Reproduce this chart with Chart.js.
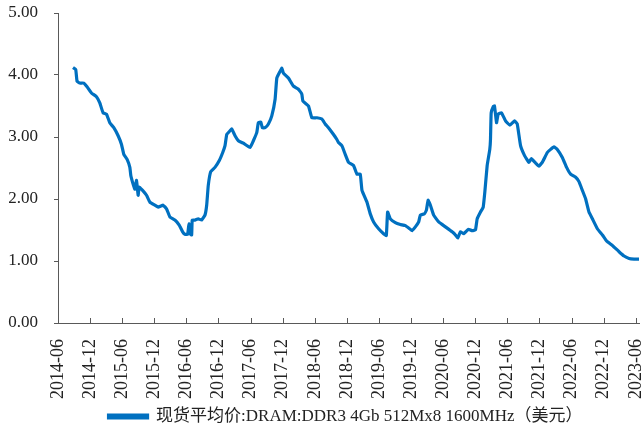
<!DOCTYPE html>
<html>
<head>
<meta charset="utf-8">
<script src="https://cdn.jsdelivr.net/npm/chart.js@4"></script>
<style>
  body { margin: 0; background: #fff; }
  canvas { display: block; }
</style>
</head>
<body>
<canvas id="chart1" width="642" height="430"></canvas>
<script>
// months since 2014-06
const monthIdx = [
  2.81, 3.31, 3.56, 4.06, 4.81, 5.43, 6.25, 7.19, 7.81, 8.43, 9.06, 9.68, 10.43, 11.24, 11.87,
  12.30, 12.92, 13.43, 13.61, 14.04, 14.36, 14.68, 14.98, 15.17, 15.81, 16.55, 17.17, 18.11, 18.73,
  19.66, 20.30, 20.92, 21.85, 22.66, 23.30, 23.73, 24.23, 24.48, 24.66, 24.98, 25.09, 25.60, 26.22,
  26.85, 27.47, 27.79, 28.09, 28.54, 29.34, 30.15, 30.79, 31.22, 31.54, 32.15, 32.47, 33.09, 33.71,
  34.64, 35.90, 36.52, 37.15, 37.45, 37.90, 38.20, 38.71, 39.33, 39.96, 40.58, 40.90, 41.52, 41.84,
  42.13, 43.07, 44.01, 44.94, 45.58, 45.77, 46.82, 47.45, 48.39, 49.33, 49.94, 50.56, 51.50, 52.13,
  52.43, 53.07, 53.69, 54.31, 55.24, 55.88, 56.50, 56.82, 57.75, 58.37, 58.99, 59.93, 60.86, 61.37,
  61.61, 62.12, 63.05, 63.99, 64.93, 65.73, 66.18, 66.80, 67.42, 67.73, 68.48, 68.86, 69.18, 69.61,
  70.22, 71.16, 72.42, 73.67, 74.29, 74.72, 75.22, 75.84, 76.67, 77.42, 78.03, 78.35, 78.97, 79.48,
  79.78, 80.22, 80.71, 80.84, 80.97, 81.35, 81.59, 81.97, 82.28, 82.90, 83.65, 84.46, 85.34, 85.84,
  86.46, 87.21, 88.01, 88.46, 89.27, 89.89, 90.52, 91.46, 92.08, 92.70, 93.33, 94.27, 95.07, 95.82,
  96.76, 97.38, 98.01, 98.63, 99.25, 99.89, 100.82, 101.76, 102.57, 103.63, 104.87, 105.81, 106.74,
  107.68, 108.61
];
const price = [
  4.12, 4.09, 3.90, 3.87, 3.87, 3.81, 3.71, 3.65, 3.55, 3.39, 3.37, 3.23, 3.15, 3.02, 2.88,
  2.72, 2.64, 2.51, 2.38, 2.24, 2.16, 2.30, 2.06, 2.19, 2.14, 2.06, 1.95, 1.90, 1.87,
  1.90, 1.84, 1.71, 1.66, 1.58, 1.47, 1.43, 1.43, 1.60, 1.44, 1.42, 1.66, 1.66, 1.68,
  1.66, 1.74, 1.90, 2.22, 2.44, 2.51, 2.62, 2.75, 2.86, 3.04, 3.10, 3.13, 3.02, 2.94,
  2.90, 2.83, 2.94, 3.07, 3.23, 3.24, 3.15, 3.15, 3.21, 3.34, 3.61, 3.95, 4.06, 4.11,
  4.03, 3.95, 3.82, 3.77, 3.69, 3.58, 3.50, 3.31, 3.31, 3.29, 3.21, 3.15, 3.04, 2.96,
  2.91, 2.86, 2.72, 2.59, 2.54, 2.40, 2.40, 2.14, 1.95, 1.76, 1.63, 1.52, 1.44, 1.41,
  1.79, 1.68, 1.62, 1.59, 1.57, 1.52, 1.49, 1.55, 1.63, 1.74, 1.76, 1.82, 1.98, 1.90,
  1.74, 1.63, 1.55, 1.47, 1.42, 1.37, 1.47, 1.44, 1.51, 1.49, 1.50, 1.68, 1.79, 1.87,
  2.11, 2.54, 2.80, 2.96, 3.39, 3.49, 3.50, 3.23, 3.37, 3.39, 3.26, 3.19, 3.26, 3.21,
  2.86, 2.70, 2.59, 2.65, 2.58, 2.53, 2.59, 2.75, 2.80, 2.84, 2.80, 2.67, 2.51, 2.40,
  2.35, 2.28, 2.14, 2.00, 1.79, 1.68, 1.52, 1.42, 1.32, 1.25, 1.15, 1.08, 1.04,
  1.03, 1.03
];
const tickLabels = [
  "2014-06", "2014-12", "2015-06", "2015-12", "2016-06", "2016-12", "2017-06", "2017-12",
  "2018-06", "2018-12", "2019-06", "2019-12", "2020-06", "2020-12", "2021-06", "2021-12",
  "2022-06", "2022-12", "2023-06"
];
const seriesName = "现货平均价:DRAM:DDR3 4Gb 512Mx8 1600MHz（美元）";

const FONT = "'Liberation Serif', 'Times New Roman', 'Noto Sans CJK SC', serif";
const AXIS = "#595959";

// x ticks in the reference point up into the plot
const innerTicks = {
  id: "innerTicks",
  afterLayout(chart) {
    // legend sits a bit right of the canvas centre and a bit lower
    chart.legend.left += 22;
    chart.legend.right += 22;
    chart.legend.top += 5;
    chart.legend.bottom += 5;
  },
  afterDraw(chart) {
    const ctx = chart.ctx;
    const sx = chart.scales.x;
    const bottom = chart.chartArea.bottom;
    ctx.save();
    ctx.strokeStyle = AXIS;
    ctx.lineWidth = 1;
    sx.ticks.forEach((t) => {
      const px = Math.round(sx.getPixelForValue(t.value)) + 0.5;
      ctx.beginPath();
      ctx.moveTo(px, bottom);
      ctx.lineTo(px, bottom - 5);
      ctx.stroke();
    });
    ctx.restore();
  },
};

const chart1 = document.getElementById("chart1").getContext("2d");
const priceChart = new Chart(chart1, {
  type: "line",
  data: {
    datasets: [
      {
        label: seriesName,
        data: monthIdx.map((m, i) => ({ x: m, y: price[i] })),
        borderColor: "#0070c0",
        backgroundColor: "#0070c0",
        borderWidth: 3.2,
        pointRadius: 0,
        tension: 0.1,
        fill: false,
      },
    ],
  },
  plugins: [innerTicks],
  options: {
    responsive: false,
    animation: false,
    layout: { padding: { top: 13, right: 3, left: 8, bottom: 0 } },
    scales: {
      x: {
        type: "linear",
        min: 0,
        max: 108.6,
        border: { display: true, color: AXIS, width: 1 },
        grid: { display: false, drawTicks: false },
        afterFit: (s) => {
          s.paddingLeft = 0;
          s.paddingRight = 0;
          s.height = 78;
        },
        ticks: {
          stepSize: 6,
          includeBounds: false,
          autoSkip: false,
          maxRotation: 90,
          minRotation: 90,
          padding: 16,
          color: "#222",
          font: { family: FONT, size: 18 },
          callback: (v) => tickLabels[Math.round(v / 6)],
        },
      },
      y: {
        min: 0,
        max: 5,
        border: { display: true, color: AXIS, width: 1 },
        grid: { drawOnChartArea: false, color: AXIS, tickLength: 4 },
        afterFit: (s) => {
          s.paddingTop = 0;
          s.paddingBottom = 0;
          s.width = 50;
        },
        ticks: {
          stepSize: 1,
          padding: 16,
          color: "#222",
          font: { family: FONT, size: 17 },
          callback: (v) => v.toFixed(2),
        },
      },
    },
    plugins: {
      legend: {
        position: "bottom",
        labels: {
          boxWidth: 39,
          boxHeight: 3,
          color: "#222",
          font: { family: FONT, size: 17 },
          padding: 2,
        },
      },
      tooltip: { enabled: false },
    },
  },
});
</script>
</body>
</html>
